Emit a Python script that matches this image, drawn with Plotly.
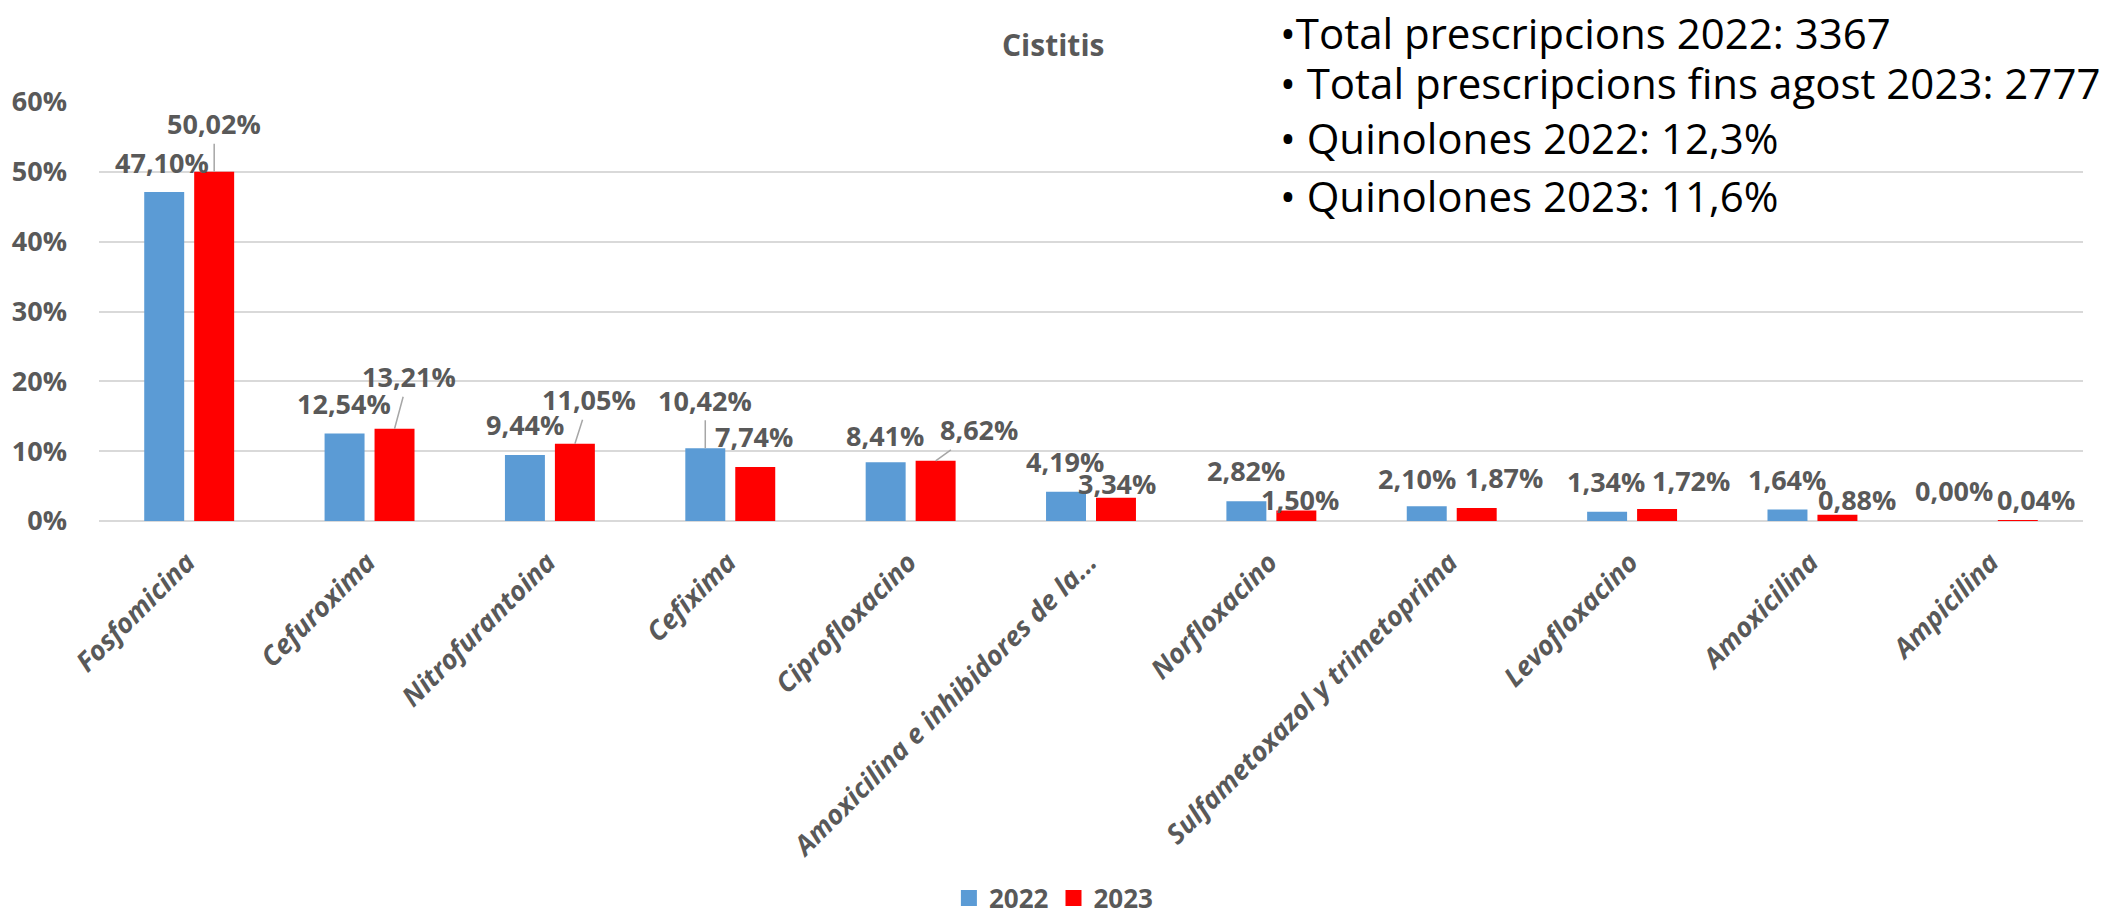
import plotly.graph_objects as go

categories = ["Fosfomicina", "Cefuroxima", "Nitrofurantoina", "Cefixima", "Ciprofloxacino",
              "Amoxicilina e inhibidores de la...", "Norfloxacino", "Sulfametoxazol y trimetoprima",
              "Levofloxacino", "Amoxicilina", "Ampicilina"]
vals_2022 = [47.10, 12.54, 9.44, 10.42, 8.41, 4.19, 2.82, 2.10, 1.34, 1.64, 0.00]
vals_2023 = [50.02, 13.21, 11.05, 7.74, 8.62, 3.34, 1.50, 1.87, 1.72, 0.88, 0.04]
series_names = ["2022", "2023"]
ytick_vals = [0, 10, 20, 30, 40, 50, 60]
ytick_text = ["0%", "10%", "20%", "30%", "40%", "50%", "60%"]
title_text = "Cistitis"
info_lines = ["•Total prescripcions 2022: 3367",
              "• Total prescripcions fins agost 2023: 2777",
              "• Quinolones 2022: 12,3%",
              "• Quinolones 2023: 11,6%"]

# label placement (pixel offsets from bar top: dx, dy, leader line)
off_2022 = [(-2, -30, False), (-1, -30, False), (0, -31, False), (0, -48, True), (-1, -27, False),
            (-1, -30, False), (0, -31, False), (-10, -28, False), (-1, -30, False), (0, -30, False),
            (-14, -31, False)]
off_2023 = [(0, -48, True), (14, -52, True), (14, -44, True), (-1, -30, False), (43, -31, True),
            (1, -14, False), (4, -11, False), (27, -30, False), (34, -28, False), (20, -15, False),
            (18, -21, False)]

GRAY = "#595959"
FONT = "Open Sans"
colors = ["#5B9BD5", "#FF0000"]

fig = go.Figure()
for name, vals, col in zip(series_names, [vals_2022, vals_2023], colors):
    fig.add_trace(go.Bar(x=categories, y=vals, name=name, legendgroup=name, showlegend=False,
                         marker=dict(color=col, line=dict(width=0))))
# legend proxies (larger square swatches)
for name, col in zip(series_names, colors):
    fig.add_trace(go.Scatter(x=[None], y=[None], mode="markers", name=name, legendgroup=name,
                             marker=dict(symbol="square", size=16, color=col), showlegend=True))


def fmt(v):
    return f"{v:.2f}".replace(".", ",") + "%"


annotations = []
for vals, offs, bar_shift in [(vals_2022, off_2022, -25), (vals_2023, off_2023, 25)]:
    for cat, v, (dx, dy, leader) in zip(categories, vals, offs):
        base = dict(x=cat, y=v, xref="x", yref="y", text=fmt(v),
                    font=dict(family=FONT, size=27, color=GRAY, weight="bold"),
                    xanchor="center", yanchor="middle")
        if leader:
            base.update(showarrow=True, arrowhead=0, arrowwidth=1.5, arrowcolor="#A6A6A6",
                        ax=dx, ay=dy, xshift=bar_shift, borderpad=1)
        else:
            base.update(showarrow=False, xshift=bar_shift + dx, yshift=-dy)
        annotations.append(base)

annotations.append(dict(x=0.4808, y=1.138, xref="paper", yref="paper", text=title_text,
                        showarrow=False, xanchor="center", yanchor="middle",
                        font=dict(family=FONT, size=30, color=GRAY, weight="bold")))

info_y = [1.167, 1.0477, 0.9141, 0.7757]
for txt, yy in zip(info_lines, info_y):
    annotations.append(dict(x=0.5942, y=yy, xref="paper", yref="paper", text=txt,
                            showarrow=False, xanchor="left", yanchor="middle",
                            font=dict(family=FONT, size=42, color="#000000")))

# the page body adds an 8px margin, so the figure is offset to line up with the window
fig.update_layout(
    width=2109, height=910,
    margin=dict(l=91, r=34, t=94, b=397, autoexpand=False),
    paper_bgcolor="white", plot_bgcolor="white",
    barmode="group", bargap=0.446, bargroupgap=0.2,
    annotations=annotations,
    showlegend=True,
    legend=dict(orientation="h", x=0.4813, y=-0.900, xanchor="center", yanchor="middle",
                font=dict(family=FONT, size=26, color=GRAY, weight="bold"), itemwidth=30,
                itemsizing="trace"),
    xaxis=dict(tickangle=-45, automargin=False, showgrid=False, showline=False,
               ticklabelstandoff=19, ticklabelshift=-2,
               tickfont=dict(family=FONT, size=27, color=GRAY, weight="bold", style="italic")),
    yaxis=dict(range=[0, 60], tickvals=ytick_vals, ticktext=ytick_text, automargin=False,
               showgrid=True, gridcolor="#D9D9D9", gridwidth=2, zeroline=True,
               zerolinecolor="#D9D9D9", zerolinewidth=2, showline=False,
               ticklabelstandoff=31,
               tickfont=dict(family=FONT, size=27, color=GRAY, weight="bold")),
)

fig.write_html("out.html")
